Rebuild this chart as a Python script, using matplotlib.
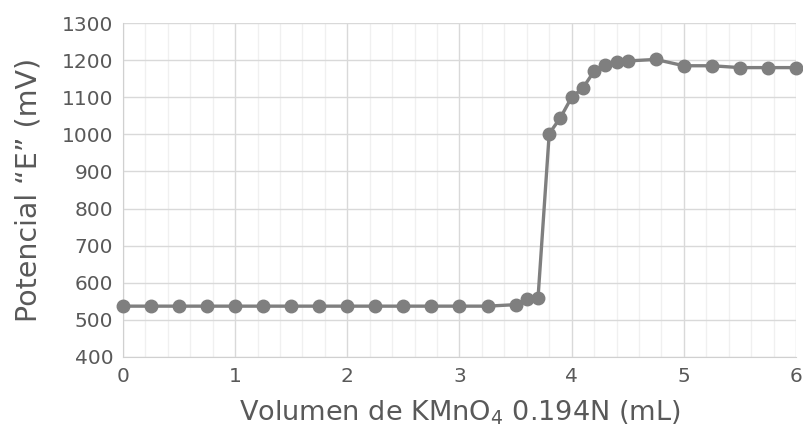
import numpy as np
import matplotlib.pyplot as plt
from matplotlib.ticker import MultipleLocator

# Datos de la titulación
volumen = [0, 0.25, 0.5, 0.75, 1, 1.25, 1.5, 1.75, 2, 2.25, 2.5, 2.75, 3, 3.25,
           3.5, 3.6, 3.7, 3.8, 3.9, 4.0, 4.1, 4.2, 4.3, 4.4, 4.5, 4.75,
           5.0, 5.25, 5.5, 5.75, 6.0]
potencial = [537, 537, 537, 537, 537, 537, 537, 537, 537, 537, 537, 537, 537, 537,
             541, 555, 558, 1002, 1045, 1100, 1125, 1170, 1187, 1195, 1198, 1202,
             1185, 1185, 1180, 1180, 1180]

plt.rcParams['font.family'] = ['DejaVu Sans']
gris = '#595959'

fig = plt.figure(figsize=(8.04, 4.44), dpi=100)
ax = fig.add_axes([0.153, 0.196, 0.837, 0.752])

ax.plot(volumen, potencial, '-o', color='#7f7f7f', lw=2.4, ms=9, zorder=3, clip_on=False)

ax.set_xlim(0, 6)
ax.set_ylim(400, 1300)
ax.xaxis.set_major_locator(MultipleLocator(1))
ax.xaxis.set_minor_locator(MultipleLocator(0.2))
ax.yaxis.set_major_locator(MultipleLocator(100))

ax.grid(which='major', color='#d9d9d9', lw=1)
ax.grid(which='minor', axis='x', color='#f0f0f0', lw=1)
ax.set_axisbelow(True)

for s in ['top', 'right']:
    ax.spines[s].set_visible(False)
for s in ['left', 'bottom']:
    ax.spines[s].set_color('#d0d0d0')

ax.tick_params(which='both', length=0, labelsize=14.5, labelcolor=gris, pad=7)

ax.set_xlabel('Volumen de KMnO$_{\\mathregular{4}}$ 0.194N (mL)', fontsize=19.5, color=gris, labelpad=9)
ax.set_ylabel('Potencial \u201cE\u201d (mV)', fontsize=20.5, color=gris, labelpad=14)

fig.savefig('out.png', dpi=100)
